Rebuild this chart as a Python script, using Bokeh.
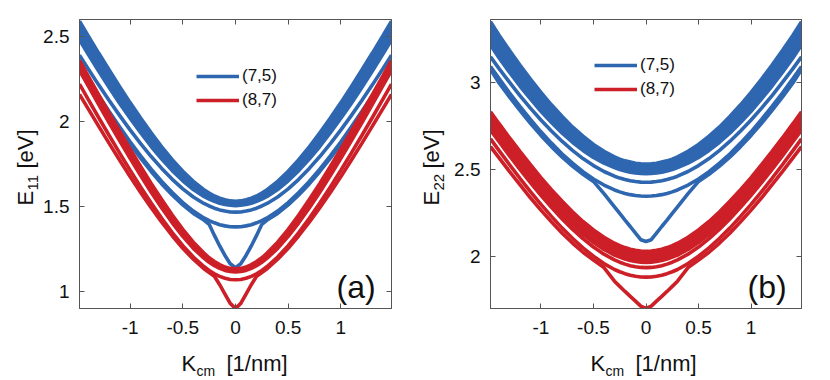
import math
from bokeh.plotting import figure
from bokeh.layouts import row, column
from bokeh.models import (Range1d, LinearAxis, Label, Legend, LegendItem,
                          FixedTicker, CustomJSTickFormatter)
from bokeh.embed import file_html
from bokeh.resources import INLINE

# ---------------- data (half dispersion, symmetric in K) ----------------
K_half = [0, 0.05, 0.1, 0.15, 0.2, 0.25, 0.3, 0.4, 0.5, 0.6, 0.7, 0.8, 0.9,
          1.0, 1.1, 1.2, 1.3, 1.4, 1.48]

# panel (a): E11
a75_band_mid = [1.518, 1.520, 1.526, 1.534, 1.546, 1.561, 1.579, 1.624, 1.679, 1.743,
                1.815, 1.893, 1.977, 2.065, 2.157, 2.253, 2.351, 2.452, 2.535]
a75_band_half = [0.013, 0.013, 0.014, 0.015, 0.016, 0.018, 0.020, 0.024, 0.028, 0.032,
                 0.036, 0.040, 0.043, 0.046, 0.049, 0.051, 0.053, 0.054, 0.055]
a75_L1 = [1.467, 1.468, 1.473, 1.480, 1.490, 1.503, 1.518, 1.556, 1.604, 1.660,
          1.724, 1.794, 1.870, 1.951, 2.036, 2.125, 2.217, 2.312, 2.390]
a75_L2 = [1.380, 1.381, 1.386, 1.393, 1.404, 1.417, 1.433, 1.473, 1.523, 1.582,
          1.647, 1.720, 1.798, 1.881, 1.969, 2.060, 2.154, 2.251, 2.330]
a75_V = [1.140, 1.163, 1.212, 1.268, 1.330, 1.395, 1.420, 1.459, 1.509, 1.568,
         1.633, 1.706, 1.784, 1.867, 1.955, 2.046, 2.140, 2.237, 2.315]

a87_band_mid = [1.124, 1.127, 1.134, 1.147, 1.164, 1.185, 1.211, 1.272, 1.345, 1.427,
                1.516, 1.610, 1.709, 1.811, 1.916, 2.022, 2.131, 2.241, 2.330]
a87_band_half = [0.009, 0.009, 0.010, 0.011, 0.012, 0.013, 0.015, 0.018, 0.021, 0.023,
                 0.025, 0.026, 0.027, 0.028, 0.028, 0.029, 0.029, 0.029, 0.029]
a87_R1 = [1.069, 1.071, 1.078, 1.089, 1.104, 1.124, 1.147, 1.203, 1.270, 1.347,
          1.431, 1.521, 1.615, 1.714, 1.815, 1.919, 2.025, 2.133, 2.220]
a87_V = [0.900, 0.930, 0.985, 1.040, 1.090, 1.112, 1.134, 1.190, 1.254, 1.328,
         1.408, 1.493, 1.583, 1.677, 1.774, 1.873, 1.974, 2.077, 2.160]

# panel (b): E22
b75_band_mid = [2.502, 2.503, 2.506, 2.512, 2.519, 2.528, 2.540, 2.569, 2.605, 2.649,
                2.699, 2.756, 2.819, 2.887, 2.961, 3.038, 3.120, 3.206, 3.280]
b75_band_half = [0.028, 0.028, 0.028, 0.029, 0.029, 0.030, 0.031, 0.034, 0.037, 0.041,
                 0.044, 0.048, 0.051, 0.054, 0.057, 0.060, 0.063, 0.065, 0.067]
b75_L1 = [2.425, 2.426, 2.429, 2.434, 2.441, 2.449, 2.460, 2.487, 2.521, 2.561,
          2.608, 2.661, 2.720, 2.783, 2.851, 2.923, 3.000, 3.079, 3.145]
b75_L2 = [2.345, 2.346, 2.349, 2.354, 2.361, 2.370, 2.381, 2.409, 2.444, 2.486,
          2.535, 2.589, 2.650, 2.715, 2.786, 2.861, 2.939, 3.022, 3.090]
b75_V = [2.085, 2.095, 2.133, 2.171, 2.208, 2.246, 2.284, 2.360, 2.430, 2.471,
         2.518, 2.571, 2.630, 2.694, 2.764, 2.838, 2.915, 2.997, 3.073]

b87_band_mid = [1.997, 1.998, 2.002, 2.008, 2.017, 2.028, 2.041, 2.074, 2.115, 2.163,
                2.218, 2.278, 2.342, 2.411, 2.484, 2.560, 2.638, 2.719, 2.786]
b87_band_half = [0.032, 0.032, 0.032, 0.032, 0.033, 0.033, 0.034, 0.035, 0.036, 0.037,
                 0.038, 0.039, 0.040, 0.041, 0.042, 0.043, 0.043, 0.044, 0.044]
b87_R0 = [1.935, 1.936, 1.940, 1.946, 1.955, 1.966, 1.979, 2.012, 2.053, 2.101,
          2.156, 2.216, 2.281, 2.350, 2.423, 2.499, 2.578, 2.659, 2.725]
b87_R1 = [1.880, 1.881, 1.885, 1.891, 1.900, 1.911, 1.924, 1.958, 2.000, 2.048,
          2.103, 2.163, 2.229, 2.298, 2.371, 2.448, 2.527, 2.608, 2.675]
b87_V = [1.700, 1.714, 1.742, 1.770, 1.798, 1.827, 1.857, 1.935, 1.978, 2.023,
         2.076, 2.134, 2.198, 2.265, 2.336, 2.411, 2.488, 2.567, 2.630]

x_ticks = [-1, -0.5, 0, 0.5, 1]
a_y_ticks = [1, 1.5, 2, 2.5]
b_y_ticks = [2, 2.5, 3]
series_labels = ["(7,5)", "(8,7)"]

BLUE = "#2E66B0"
RED = "#CC1F27"
AX = "#555555"
TXT = "#111111"
FONT = "Liberation Sans"
LW = 3.6
H_ALL = 378          # total height
B_BOTTOM = 38        # bottom border of plot (tick labels)
XLAB_TOP = 19 + 289 + B_BOTTOM
XLAB_H = H_ALL - XLAB_TOP


def full(y):
    k = [-v for v in K_half[::-1]] + K_half[1:]
    return k, y[::-1] + y[1:]


def band(p, mid, half, color):
    k, m = full(mid)
    _, h = full(half)
    lo = [a - b for a, b in zip(m, h)]
    hi = [a + b for a, b in zip(m, h)]
    p.varea(x=k, y1=lo, y2=hi, fill_color=color)
    p.line(k, lo, line_color=color, line_width=LW)
    p.line(k, hi, line_color=color, line_width=LW)


def curve(p, y, color):
    k, yy = full(y)
    return p.line(k, yy, line_color=color, line_width=LW)


def style_axis(ax, ticks, labels=True):
    ax.ticker = FixedTicker(ticks=ticks)
    ax.major_tick_in = 5
    ax.major_tick_out = 0
    ax.minor_tick_line_color = None
    ax.axis_line_color = AX
    ax.major_tick_line_color = AX
    ax.axis_label = None
    if labels:
        ax.formatter = CustomJSTickFormatter(code="return tick.toString()")
        ax.major_label_text_font = FONT
        ax.major_label_text_font_size = "19px"
        ax.major_label_text_color = TXT
    else:
        ax.formatter = CustomJSTickFormatter(code="return ''")
        ax.major_label_text_font_size = "0px"
        ax.major_label_standoff = 0


def make_panel(yr, yticks, fw, mr, tag):
    p = figure(frame_width=fw, frame_height=289,
               x_range=Range1d(-1.48, 1.48), y_range=Range1d(*yr),
               output_backend="svg", toolbar_location=None,
               min_border_left=38, min_border_right=mr,
               min_border_top=19, min_border_bottom=B_BOTTOM)
    p.xgrid.visible = False
    p.ygrid.visible = False
    p.outline_line_color = AX
    p.background_fill_color = "white"
    p.border_fill_color = "white"
    style_axis(p.xaxis[0], x_ticks)
    p.xaxis[0].major_label_standoff = 12
    style_axis(p.yaxis[0], yticks)
    p.yaxis[0].major_label_standoff = 10
    top = LinearAxis()
    right = LinearAxis()
    style_axis(top, x_ticks, labels=False)
    style_axis(right, yticks, labels=False)
    p.add_layout(top, "above")
    p.add_layout(right, "right")
    p.add_layout(Label(x=257, y=22, x_units="screen", y_units="screen", text=tag,
                       text_font=FONT, text_font_size="32px", text_color=TXT,
                       text_baseline="alphabetic", text_align="left"))
    return p


def blank(w, h):
    f = figure(width=w, height=h, x_range=Range1d(0, w), y_range=Range1d(0, h),
               output_backend="svg", toolbar_location=None,
               min_border_left=0, min_border_right=0,
               min_border_top=0, min_border_bottom=0,
               x_axis_location=None, y_axis_location=None)
    f.grid.visible = False
    f.outline_line_color = None
    f.background_fill_color = "white"
    f.border_fill_color = "white"
    return f


def txt(f, x, y, s, size, angle=0.0):
    f.add_layout(Label(x=x, y=y, x_units="screen", y_units="screen", text=s,
                       angle=angle, text_font=FONT, text_font_size=size,
                       text_color=TXT, text_baseline="alphabetic",
                       text_align="left"))


def ylabel_fig(w, xb, sub):
    f = blank(w, H_ALL)
    txt(f, xb, H_ALL - 205, "E", "22px", math.pi / 2)
    txt(f, xb + 7, H_ALL - 190, sub, "15px", math.pi / 2)
    txt(f, xb, H_ALL - 168, "[eV]", "22px", math.pi / 2)
    return f


def xlabel_fig(w, x0):
    f = blank(w, XLAB_H)
    base = XLAB_H - (363 - XLAB_TOP)
    txt(f, x0, base, "K", "22px")
    txt(f, x0 + 15, base - 7, "cm", "14px")
    txt(f, x0 + 45, base, "[1/nm]", "22px")
    return f


# ---------------- panel (a) ----------------
pa = make_panel((0.9, 2.6), a_y_ticks, 312, 28, "(a)")
band(pa, a75_band_mid, a75_band_half, BLUE)
la1 = curve(pa, a75_L1, BLUE)
curve(pa, a75_L2, BLUE)
curve(pa, a75_V, BLUE)
band(pa, a87_band_mid, a87_band_half, RED)
la2 = curve(pa, a87_R1, RED)
curve(pa, a87_V, RED)

# ---------------- panel (b) ----------------
pb = make_panel((1.70, 3.36), b_y_ticks, 311, 20, "(b)")
band(pb, b75_band_mid, b75_band_half, BLUE)
lb1 = curve(pb, b75_L1, BLUE)
curve(pb, b75_L2, BLUE)
curve(pb, b75_V, BLUE)
band(pb, b87_band_mid, b87_band_half, RED)
curve(pb, b87_R0, RED)
lb2 = curve(pb, b87_R1, RED)
curve(pb, b87_V, RED)

for p, rb, rr, loc in ((pa, la1, la2, (117, 198)), (pb, lb1, lb2, (104, 209))):
    leg = Legend(items=[LegendItem(label=series_labels[0], renderers=[rb]),
                        LegendItem(label=series_labels[1], renderers=[rr])],
                 location=loc, margin=0, padding=0, spacing=4,
                 glyph_width=43, glyph_height=20, label_height=20,
                 label_standoff=3, border_line_color=None,
                 background_fill_alpha=0, label_text_font=FONT,
                 label_text_font_size="17px", label_text_color=TXT)
    p.add_layout(leg)

ya = ylabel_fig(40, 25, "11")
yb = ylabel_fig(32, 12, "22")
xa = xlabel_fig(378, 102)
xb = xlabel_fig(369, 100)

layout = row(ya, column(pa, xa), yb, column(pb, xb))
open("out.html", "w").write(file_html(layout, INLINE))
